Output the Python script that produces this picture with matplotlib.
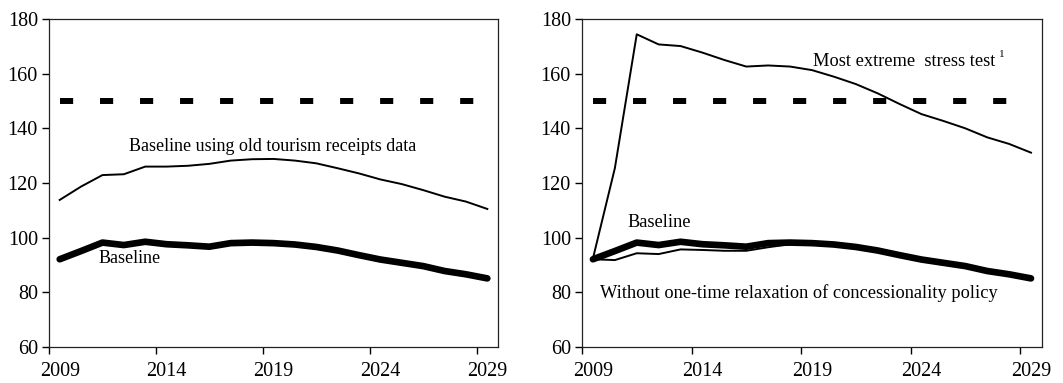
import numpy as np
import matplotlib.pyplot as plt

plt.rcParams['font.family'] = ['Liberation Serif', 'DejaVu Serif']

# Data (2009-2029)
years = list(range(2009, 2030))
baseline = [92.1, 95.1, 98.2, 97.3, 98.5, 97.6, 97.2, 96.7, 98.0, 98.2, 98.0,
            97.5, 96.6, 95.3, 93.6, 92.0, 90.8, 89.6, 87.8, 86.6, 85.1]
old_tourism = [113.8, 118.7, 122.9, 123.2, 126.0, 126.0, 126.3, 127.0, 128.2, 128.7, 128.8,
               128.2, 127.2, 125.4, 123.5, 121.3, 119.6, 117.4, 115.0, 113.2, 110.5]
extreme_stress = [92.4, 125.4, 174.4, 170.7, 170.1, 167.7, 165.0, 162.6, 163.0, 162.6, 161.3,
                  158.9, 156.2, 152.8, 148.9, 145.2, 142.7, 140.0, 136.7, 134.3, 131.1]
no_relaxation = [92.1, 91.8, 94.3, 94.0, 95.7, 95.5, 95.2, 95.2, 96.5, 97.6, 97.6,
                 97.3, 96.4, 95.1, 93.4, 91.8, 90.6, 89.4, 87.6, 86.4, 84.9]
threshold = [150] * len(years)

x = np.arange(len(years))
tick_labels = ['2009', '2014', '2019', '2024', '2029']

fig = plt.figure(figsize=(10.63, 3.83), dpi=100)
ax1 = fig.add_axes([0.0461, 0.094, 0.4224, 0.8564])
ax2 = fig.add_axes([0.5475, 0.094, 0.4327, 0.8564])


def style_axes(ax):
    ax.set_xlim(-0.5, 20.5)
    ax.set_ylim(60, 180)
    ax.set_yticks(range(60, 181, 20))
    ax.set_xticks([0, 5, 10, 15, 20])
    ax.set_xticklabels(tick_labels)
    ax.set_xticks([-0.5, 4.5, 9.5, 14.5, 19.5], minor=True)
    ax.tick_params(axis='x', which='major', length=0, pad=11, labelsize=14.5)
    ax.tick_params(axis='x', which='minor', length=5, width=1, direction='out')
    ax.tick_params(axis='y', length=5, width=1, direction='out', labelsize=14.5, pad=3)
    for s in ax.spines.values():
        s.set_linewidth(0.9)
        s.set_color('#222222')


def draw_threshold(ax):
    ax.plot(x, threshold, color='black', lw=4.3, dashes=(2.2, 4.5),
            solid_capstyle='butt', dash_capstyle='butt')


# Left panel
style_axes(ax1)
draw_threshold(ax1)
ax1.plot(x, old_tourism, color='black', lw=1.4)
ax1.plot(x, baseline, color='black', lw=4.8, solid_capstyle='round')
ax1.text(3.24, 133.3, 'Baseline using old tourism receipts data', fontsize=13, va='center')
ax1.text(1.8, 92.3, 'Baseline', fontsize=13, va='center')

# Right panel
style_axes(ax2)
draw_threshold(ax2)
ax2.plot(x, extreme_stress, color='black', lw=1.4)
ax2.plot(x, no_relaxation, color='black', lw=1.4)
ax2.plot(x, baseline, color='black', lw=4.8, solid_capstyle='round')
ax2.text(10.05, 164.6, 'Most extreme  stress test', fontsize=13.2, va='center')
ax2.text(18.55, 167.0, '1', fontsize=8, va='center')
ax2.text(1.59, 105.5, 'Baseline', fontsize=13.2, va='center')
ax2.text(0.32, 79.9, 'Without one-time relaxation of concessionality policy',
         fontsize=13.2, va='center')

fig.savefig('out.png', dpi=100)
